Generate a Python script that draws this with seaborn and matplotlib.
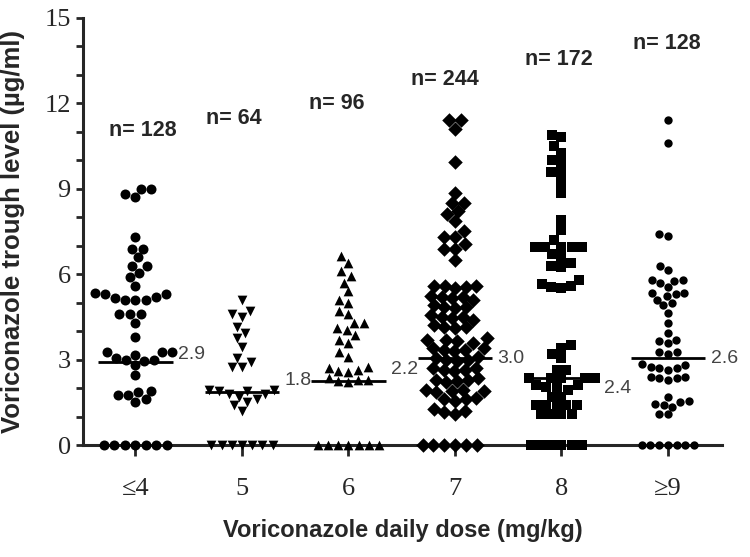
import pandas as pd
import matplotlib
matplotlib.use("Agg")
import matplotlib.pyplot as plt
import seaborn as sns


doses = ["≤4", "5", "6", "7", "8", "≥9"]
n_labels = ["n= 128", "n= 64", "n= 96", "n= 244", "n= 172", "n= 128"]
median_text = ["2.9", "1.8", "2.2", "3.0", "2.4", "2.6"]
median_line = [2.9, 1.85, 2.25, 3.05, 2.35, 3.05]

dose_le4 = [9.0, 8.8, 8.7, 9.0, 7.3, 6.9, 6.9, 6.6, 6.3, 6.3, 6.05, 5.9, 5.6,
            5.35, 5.3, 5.15, 5.1, 5.1, 5.1, 5.2, 5.3, 4.6, 4.6, 4.6, 4.3, 3.8,
            3.25, 3.15, 3.05, 3.0, 2.95, 3.0, 3.25, 3.25, 2.8, 2.45,
            1.9, 1.75, 1.6, 1.5, 1.75, 1.85,
            0, 0, 0, 0, 0, 0, 0]
dose_5 = [5.1, 4.7, 4.6, 4.5, 4.15, 3.95, 3.75, 3.45, 3.05, 2.9, 2.75, 2.75,
          1.95, 1.9, 1.8, 1.8, 1.9, 1.95,
          1.7, 1.6, 1.5, 1.4, 1.2,
          0, 0, 0, 0, 0, 0, 0]
dose_6 = [6.65, 6.4, 6.1, 5.95, 5.7, 5.4, 5.1, 5.0, 4.7, 4.6, 4.3, 4.3, 4.1,
          4.05, 3.85, 3.7, 3.6, 3.25, 3.1, 2.75, 2.7, 2.65, 2.6, 2.55,
          2.35, 2.3, 2.3, 2.25, 2.2,
          0, 0, 0, 0, 0, 0, 0]
dose_7 = [11.4, 11.4, 11.1, 9.95, 8.85, 8.5, 8.5, 8.2, 8.1, 7.85, 7.5, 7.3,
          7.3, 7.05, 6.9, 6.9, 6.5,
          5.6, 5.55, 5.6, 5.5, 5.6,
          5.25, 5.2, 5.15, 5.2, 5.1,
          4.9, 4.85, 4.8, 4.85,
          4.55, 4.5, 4.45, 4.5, 4.4,
          4.2, 4.15, 4.1, 4.15,
          3.75, 3.7, 3.65, 3.7, 3.6,
          3.4, 3.35, 3.3, 3.35, 3.4,
          3.05, 3.0, 2.95, 3.0, 3.1,
          2.7, 2.65, 2.6, 2.65, 2.7,
          2.35, 2.3, 2.25, 2.3, 2.2,
          1.95, 1.9, 1.85, 1.9, 1.95,
          1.65, 1.6, 1.55, 1.6,
          1.25, 1.2, 1.15, 1.1,
          0, 0, 0, 0, 0, 0]
dose_8 = [10.9, 10.8, 10.5, 10.25, 10.0, 9.9, 9.6, 9.55, 9.2, 8.85,
          7.9, 7.55, 7.2, 6.95, 6.95, 6.95, 6.95, 6.95,
          6.7, 6.6, 6.4, 6.3, 6.25, 5.8, 5.65, 5.55, 5.6, 5.5,
          3.5, 3.4, 3.2, 3.05, 2.65, 2.65,
          2.35, 2.35, 2.35, 2.35, 2.35,
          2.1, 2.05, 2.0, 1.95, 2.1, 1.7, 1.7,
          1.4, 1.4, 1.4, 1.4, 1.4, 1.1, 1.1, 1.1, 1.1,
          0, 0, 0, 0, 0, 0]
dose_ge9 = [11.4, 10.6, 7.4, 7.35, 6.3, 6.15, 5.8, 5.75, 5.7, 5.8, 5.55,
            5.35, 5.3, 5.25, 5.35, 5.1, 5.0, 4.9, 4.65, 4.3, 3.95,
            3.7, 3.65, 3.6, 3.25, 3.25, 3.2,
            2.85, 2.8, 2.75, 2.7, 2.7, 2.65, 2.4, 2.35, 2.3, 2.35, 2.4,
            1.7, 1.55, 1.5, 1.45, 1.4, 1.35, 1.1, 1.1,
            0, 0, 0, 0, 0, 0, 0]

groups = [dose_le4, dose_5, dose_6, dose_7, dose_8, dose_ge9]
markers = ["o", "v", "^", "D", "s", "o"]
marker_size = [7.2, 7.0, 7.0, 7.4, 7.0, 6.0]

# label placement (offsets from category centre, data units)
n_dx = [0.07, -0.08, -0.11, -0.09, -0.02, -0.01]
n_y = [11.05, 11.45, 12.0, 12.85, 13.55, 14.1]
med_dy = [0.28, 0.4, 0.4, 0.0, -0.35, 0.0]

sns.set_style("ticks")
plt.rcParams["font.family"] = ["Liberation Sans", "DejaVu Sans"]

fig = plt.figure(figsize=(7.5, 5.57), dpi=100)
ax = fig.add_axes([0.111, 0.201, 0.852, 0.767])

for i, vals in enumerate(groups):
    sub = pd.DataFrame({"dose": doses[i], "level": vals})
    n_before = len(ax.collections)
    sns.swarmplot(data=sub, x="dose", y="level", order=doses, ax=ax,
                  marker=markers[i], size=marker_size[i], color="black",
                  linewidth=0, warn_thresh=1)
    for c in ax.collections[n_before:]:
        c.set_clip_on(False)
        c.set_zorder(4)

for i in range(len(doses)):
    ax.plot([i - 0.35, i + 0.35], [median_line[i], median_line[i]],
            color="black", lw=2, zorder=5, solid_capstyle="butt")
    ax.text(i + 0.4, median_line[i] + med_dy[i], median_text[i], fontsize=14,
            color="#444444", ha="left", va="center", zorder=6)
    ax.text(i + n_dx[i], n_y[i], n_labels[i], fontsize=15.5,
            fontweight="bold", ha="center", va="center")

ax.set_xlim(-0.49, 5.51)
ax.set_ylim(0, 15)
ax.set_yticks([0, 3, 6, 9, 12, 15])
ax.set_yticks(range(16), minor=True)
ax.tick_params(axis="y", which="both", length=5, width=2, direction="out",
               labelsize=19, pad=4)
ax.tick_params(axis="x", length=8, width=2, direction="out",
               labelsize=19, pad=16)
for lab in ax.get_xticklabels() + ax.get_yticklabels():
    lab.set_family(["Liberation Serif", "DejaVu Serif"])

sns.despine(ax=ax)
for s in ["left", "bottom"]:
    ax.spines[s].set_linewidth(2.2)

ax.set_xlabel("Voriconazole daily dose (mg/kg)", fontsize=17,
              fontweight="bold", va="center")
ax.set_ylabel("Voriconazole trough level (µg/ml)", fontsize=18.5,
              fontweight="bold", va="center")
ax.xaxis.set_label_coords(0.5, -0.2)
ax.yaxis.set_label_coords(-0.11, 0.5)

fig.savefig("out.png", dpi=100)
